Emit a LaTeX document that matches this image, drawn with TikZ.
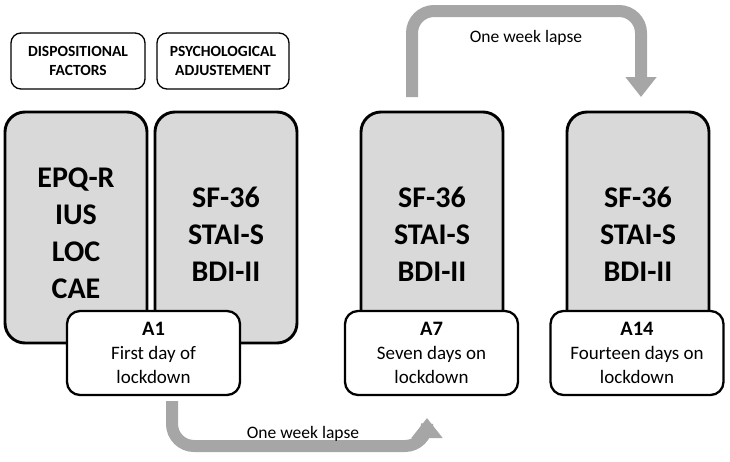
\documentclass[tikz,border=0pt]{standalone}
\usepackage{fontspec}
\setmainfont{Carlito}
\usetikzlibrary{arrows.meta,calc}
\definecolor{boxgrey}{HTML}{D9D9D9}
\definecolor{arrowgrey}{HTML}{A6A6A6}
\tikzset{
  greybox/.style={draw=black, line width=2.9pt, fill=boxgrey, rounded corners=20pt,
    minimum width=142pt, minimum height=231pt, inner sep=0pt, outer sep=0pt},
  bigtext/.style={font=\fontsize{30}{37}\selectfont\bfseries, align=center, inner sep=0pt},
  whitebox/.style={draw=black, line width=2.3pt, fill=white, rounded corners=13pt,
    minimum width=173pt, minimum height=84pt, inner sep=0pt, outer sep=0pt,
    font=\fontsize{19}{24}\selectfont, align=center},
  alabel/.style={font=\fontsize{20.5}{24}\selectfont\bfseries},
  headbox/.style={draw=black, line width=1.3pt, rounded corners=10pt,
    minimum height=56pt, inner sep=0pt, outer sep=0pt,
    font=\fontsize{15.5}{19}\selectfont\bfseries, align=center},
  flow/.style={draw=arrowgrey, line width=12pt, rounded corners=22pt,
    -{Triangle[width=30pt,length=20pt]}},
  lapse/.style={font=\fontsize{17.5}{21}\selectfont, inner sep=0pt}
}
\begin{document}
\begin{tikzpicture}[x=1pt,y=-1pt]
\useasboundingbox (0,0) rectangle (730,461);
% header boxes
\node[headbox, minimum width=134pt] (h1) at (78,61) {DISPOSITIONAL\\FACTORS};
\node[headbox, minimum width=132pt] (h2) at (223,61) {PSYCHOLOGICAL\\ADJUSTEMENT};
% grey boxes
\node[greybox] (g1) at (76,227.5) {};
\node[greybox] (g2) at (226,227.5) {};
\node[greybox] (g7) at (432,227.5) {};
\node[greybox] (g14) at (638,227.5) {};
\node[bigtext] (t1) at ($(g1)+(0,5.5)$) {EPQ-R\\IUS\\LOC\\CAE};
\node[bigtext] (t2) at ($(g2)+(0,6.5)$) {SF-36\\STAI-S\\BDI-II};
\node[bigtext] (t7) at ($(g7)+(0,6.5)$) {SF-36\\STAI-S\\BDI-II};
\node[bigtext] (t14) at ($(g14)+(0,6.5)$) {SF-36\\STAI-S\\BDI-II};
% white boxes
\node[whitebox] (a1) at (153.5,353) {{\fontsize{20.5}{24}\selectfont\bfseries A1}\\First day of\\lockdown};
\node[whitebox] (a7) at (431.5,353) {{\fontsize{20.5}{24}\selectfont\bfseries A7}\\Seven days on\\lockdown};
\node[whitebox] (a14) at (637,353) {{\fontsize{20.5}{24}\selectfont\bfseries A14}\\Fourteen days on\\lockdown};
% arrows
\draw[flow] ($(a1.south)+(18.5,6)$) |- ($(a7.south)+(-4.5,51)$) -- ($(a7.south)+(-4.5,23)$);
\draw[flow] ($(g7.north)+(-20,-15)$) |- ($(g14.north)+(3,-101)$) -- ($(g14.north)+(3,-15)$);
\node[lapse] (l1) at (303,434) {One week lapse};
\node[lapse] (l2) at (526,37.5) {One week lapse};
\end{tikzpicture}
\end{document}
